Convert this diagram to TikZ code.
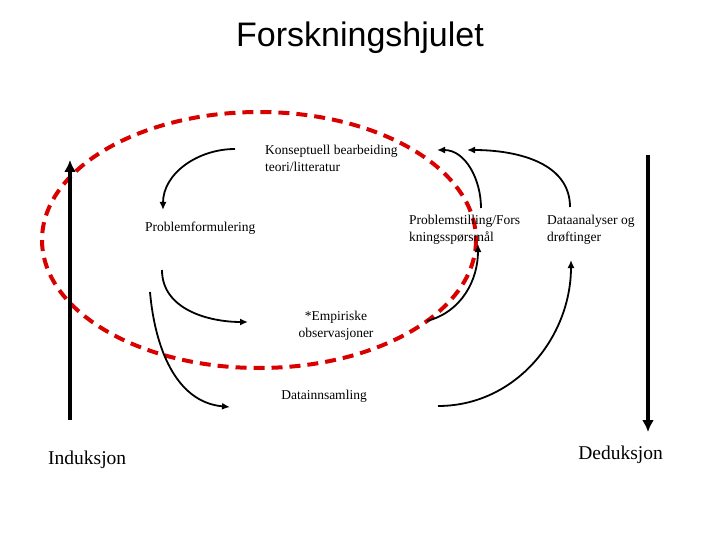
\documentclass[tikz,border=0pt]{standalone}
\usepackage{fontspec}
\setmainfont{Liberation Serif}
\newfontfamily\titlefont{Liberation Sans}
\usetikzlibrary{arrows,arrows.meta}

\begin{document}
\begin{tikzpicture}[x=1pt,y=-1pt,
    lbl/.style={font=\fontsize{13.5}{17}\selectfont, align=left, inner sep=0pt},
    big/.style={font=\fontsize{19.5}{22}\selectfont, inner sep=0pt},
    flow/.style={-{Latex[length=8pt,width=7pt]}, line width=1.8pt},
    axis/.style={-{Latex[length=12pt,width=12pt]}, line width=4pt}]
      \useasboundingbox (0,0) rectangle (720,540);

      % Title
      \node (title) at (360,38) {\titlefont\fontsize{34}{38}\selectfont Forskningshjulet};

      % Red dashed ring round the inner part of the wheel
      \draw[red!85!black, line width=4pt, dash pattern=on 11pt off 7pt]
        (259,240) ellipse [x radius=217, y radius=128];

      % The steps of the wheel
      \node[lbl, anchor=west] (konsept) at (265,158) {Konseptuell bearbeiding\\teori/litteratur};
      \node[lbl, anchor=west] (problemform) at (145,228) {Problemformulering};
      \node[lbl, anchor=west] (problemstill) at (409,230) {Problemstilling/Fors\\kningsspørsmål};
      \node[lbl, anchor=west] (analyse) at (547,230) {Dataanalyser og\\drøftinger};
      \node[lbl, align=center] (empiri) at (336,326) {*Empiriske\\observasjoner};
      \node[lbl] (datainn) at (324,396) {Datainnsamling};

      % Induction and deduction
      \node[big, anchor=west] (induksjon) at (48,460) {Induksjon};
      \node[big, anchor=east] (deduksjon) at (663,455) {Deduksjon};

      % End points of the curved arrows
      \coordinate (k1) at (235,149);
      \coordinate (p1) at (163,210);
      \coordinate (p2) at (162,270);
      \coordinate (e1) at (248,322);
      \coordinate (p3) at (150,292);
      \coordinate (d1) at (230,407);
      \coordinate (e2) at (427,321);
      \coordinate (s1) at (478,244);
      \coordinate (s2) at (481,208);
      \coordinate (k2) at (437,150);
      \coordinate (a1) at (570,207);
      \coordinate (k3) at (467,150);
      \coordinate (d2) at (438,406);
      \coordinate (a2) at (571,260);

      % Draw the curved arrows
      \draw[flow] (k1) to[out=180,in=90] (p1);
      \draw[flow] (p2) to[out=-90,in=180] (e1);
      \draw[flow] (p3) to[out=-85,in=175] (d1);
      \draw[flow] (e2) to[out=15,in=-90] (s1);
      \draw[flow] (s2) to[out=90,in=0] (k2);
      \draw[flow] (a1) to[out=90,in=0] (k3);
      \draw[flow] (d2) to[out=0,in=-90] (a2);

      % Draw the thick arrows
      \coordinate (ind0) at (70,420);
      \coordinate (ind1) at (70,160);
      \coordinate (ded0) at (648,155);
      \coordinate (ded1) at (648,432);
      \draw[axis] (ind0) -- (ind1);
      \draw[axis] (ded0) -- (ded1);
\end{tikzpicture}
\end{document}
